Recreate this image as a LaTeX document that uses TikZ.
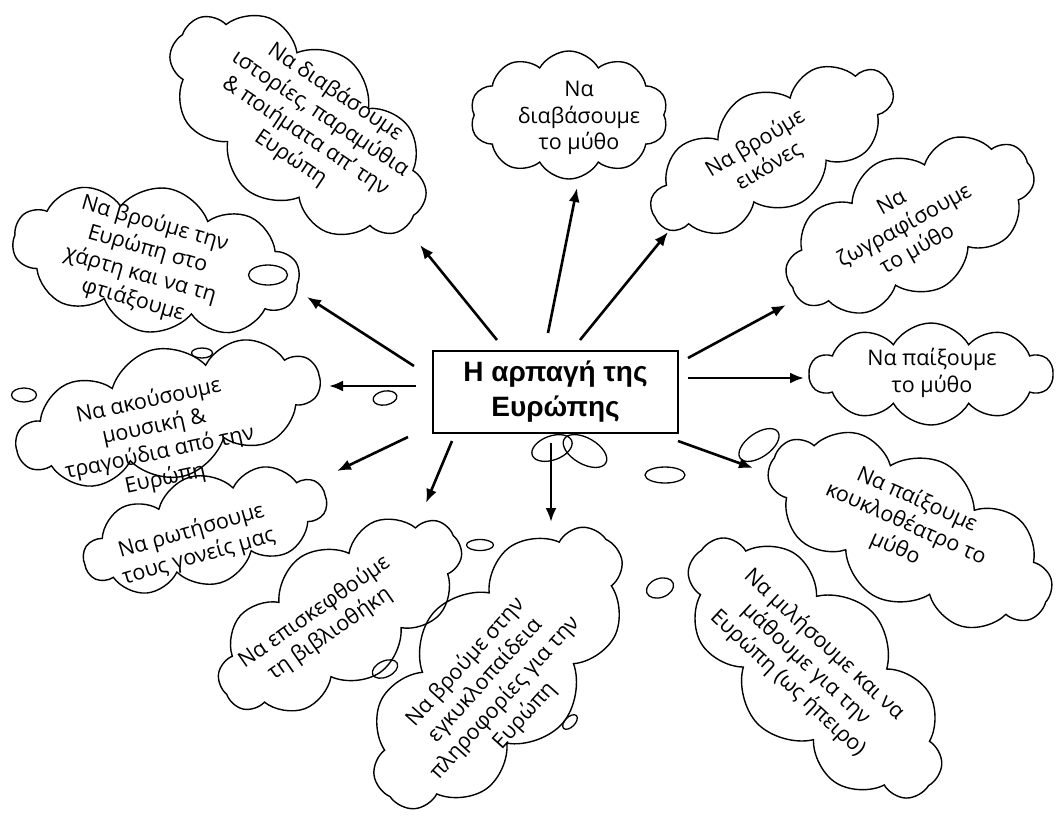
\documentclass[tikz,border=0pt]{standalone}
\usepackage{fontspec}
\setmainfont{Open Sans}
\newfontfamily\titlefont{Liberation Sans}
\usetikzlibrary{shapes.symbols,shapes.geometric,arrows.meta}
\begin{document}
\begin{tikzpicture}[x=1pt,y=-1pt,
  cloudshape/.style={cloud, draw=black, line width=1.4pt, cloud puffs=10, cloud puff arc=120, cloud ignores aspect, inner sep=0pt},
  ctext/.style={align=center, font=\fontsize{21.5}{26.5}\selectfont, inner sep=0pt},
  bubble/.style={ellipse, draw=black, line width=1.3pt, inner sep=0pt},
  arr/.style={line width=2.6pt, -{Latex[length=14pt,width=11pt]}},
]
\useasboundingbox (0,0) rectangle (1059,828);
\fill[white] (0,0) rectangle (1059,828);

% clouds
\node[cloudshape, minimum width=300pt, minimum height=165pt, rotate=-38] (cA) at (298,125) {};
\node[cloudshape, minimum width=198pt, minimum height=128pt] (cB) at (569,115) {};
\node[cloudshape, minimum width=270pt, minimum height=120pt, rotate=30] (cC) at (772,150) {};
\node[cloudshape, minimum width=270pt, minimum height=140pt, rotate=28] (cD) at (910,225) {};
\node[cloudshape, minimum width=243pt, minimum height=102pt] (cE) at (931,374) {};
\node[cloudshape, minimum width=310pt, minimum height=150pt, rotate=-28] (cF) at (910,530) {};
\node[cloudshape, minimum width=330pt, minimum height=160pt, rotate=-46] (cG) at (815,668) {};
\node[cloudshape, minimum width=340pt, minimum height=170pt, rotate=50] (cH) at (498,668) {};
\node[cloudshape, minimum width=280pt, minimum height=140pt, rotate=35] (cI) at (340,615) {};
\node[cloudshape, minimum width=250pt, minimum height=110pt, rotate=16] (cJ) at (205,530) {};
\node[cloudshape, minimum width=310pt, minimum height=130pt, rotate=14] (cK) at (168,413) {};
\node[cloudshape, minimum width=290pt, minimum height=145pt, rotate=-10] (cL) at (156,260) {};

% small bubbles
\node[bubble, minimum width=39pt, minimum height=20pt] (e1) at (268,275) {};
\node[bubble, minimum width=24pt, minimum height=14pt, rotate=10] (e2) at (385,398) {};
\node[bubble, minimum width=25pt, minimum height=14pt] (e3) at (24,395) {};
\node[bubble, minimum width=21pt, minimum height=10pt] (e4) at (202,353) {};
\node[bubble, minimum width=42pt, minimum height=24pt, rotate=20] (e5) at (552,448) {};
\node[bubble, minimum width=48pt, minimum height=26pt, rotate=-30] (e6) at (585,451) {};
\node[bubble, minimum width=40pt, minimum height=16pt] (e7) at (665,475) {};
\node[bubble, minimum width=46pt, minimum height=24pt, rotate=35] (e8) at (759,445) {};
\node[bubble, minimum width=27pt, minimum height=11pt] (e9) at (480,545) {};
\node[bubble, minimum width=27pt, minimum height=16pt, rotate=25] (e10) at (385,669) {};
\node[bubble, minimum width=18pt, minimum height=10pt, rotate=45] (e11) at (570,722) {};
\node[bubble, minimum width=28pt, minimum height=19pt, rotate=20] (e12) at (660,588) {};

% texts
\node[ctext, rotate=-34] (tA) at (313,125) {Να διαβάσουμε\\ιστορίες, παραμύθια\\\& ποιήματα απ’ την\\Ευρώπη};
\node[ctext] (tB) at (579,118) {Να\\διαβάσουμε\\το μύθο};
\node[ctext, rotate=31] (tC) at (762,155) {Να βρούμε\\εικόνες};
\node[ctext, rotate=29] (tD) at (905,227) {Να\\ζωγραφίσουμε\\το μύθο};
\node[ctext] (tE) at (932,373) {Να παίξουμε\\το μύθο};
\node[ctext, rotate=-24] (tF) at (906,524) {Να παίξουμε\\κουκλοθέατρο το\\μύθο};
\node[ctext, rotate=-43] (tG) at (806,664) {Να μιλήσουμε και να\\μάθουμε για την\\Ευρώπη (ως ήπειρο)};
\node[ctext, rotate=48] (tH) at (495,689) {Να βρούμε στην\\εγκυκλοπαίδεια\\πληροφορίες για την\\Ευρώπη};
\node[ctext, rotate=35] (tI) at (322,623) {Να επισκεφθούμε\\τη βιβλιοθήκη};
\node[ctext, rotate=16] (tJ) at (195,544) {Να ρωτήσουμε\\τους γονείς μας};
\node[ctext, rotate=12] (tK) at (157,440) {Να ακούσουμε\\μουσική \&\\τραγούδια από την\\Ευρώπη};
\node[ctext, rotate=-16] (tL) at (144,262) {Να βρούμε την\\Ευρώπη στο\\χάρτη και να τη\\φτιάξουμε};

% centre box
\node[draw=black, line width=1.2pt, minimum width=245pt, minimum height=82pt, align=center,
      font=\titlefont\bfseries\fontsize{28}{35}\selectfont] (box) at (555.5,392) {Η αρπαγή της\\Ευρώπης};

% arrows
\coordinate (s1) at (497,340); \coordinate (t1) at (420,245);
\coordinate (s2) at (548,333); \coordinate (t2) at (577,188);
\coordinate (s3) at (580,340); \coordinate (t3) at (668,232);
\coordinate (s4) at (688,358); \coordinate (t4) at (786,305);
\coordinate (s5) at (688,378); \coordinate (t5) at (804,378);
\coordinate (s6) at (678,441); \coordinate (t6) at (753,468);
\coordinate (s7) at (551,443); \coordinate (t7) at (551,522);
\coordinate (s8) at (452,441); \coordinate (t8) at (426,503);
\coordinate (s9) at (408,437); \coordinate (t9) at (337,471);
\coordinate (s10) at (416,386); \coordinate (t10) at (329,386);
\coordinate (s11) at (414,366); \coordinate (t11) at (307,297);
\foreach \i in {1,...,11} \draw[arr] (s\i) -- (t\i);
\end{tikzpicture}
\end{document}
